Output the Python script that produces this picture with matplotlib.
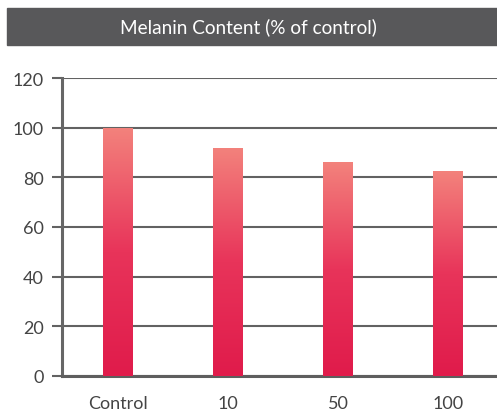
import numpy as np
import matplotlib.pyplot as plt
from matplotlib.colors import LinearSegmentedColormap
from matplotlib.patches import Rectangle

# podaci
categories = ["Control", "10", "50", "100"]
melanin = [100, 92, 86, 82.5]
yticks = [0, 20, 40, 60, 80, 100, 120]

plt.rcParams["font.family"] = ["Lato", "DejaVu Sans"]

fig = plt.figure(figsize=(4.97, 4.14), dpi=100)

# naslovna traka
fig.patches.append(Rectangle((7 / 497, 1 - 46 / 414), 490 / 497, 37 / 414,
                             transform=fig.transFigure, color="#58585a", zorder=0))
fig.text(0.5, 1 - 27.5 / 414, "Melanin Content (% of control)", color="white",
         fontsize=13.7, ha="center", va="center")

ax = fig.add_axes([62 / 497, 1 - 377 / 414, 435 / 497, 298 / 414])

x = np.arange(len(categories))
bars = ax.bar(x, melanin, width=0.27, color="none", zorder=3)

cmap = LinearSegmentedColormap.from_list("g", ["#e01b4b", "#e8345a", "#f3827c"])
grad = np.linspace(0, 1, 256).reshape(-1, 1)
for b in bars:
    im = ax.imshow(grad, cmap=cmap, origin="lower", aspect="auto",
                   extent=[b.get_x(), b.get_x() + b.get_width(), 0, b.get_height()],
                   zorder=3)
    im.set_clip_path(b)

ax.set_xlim(-0.51, 3.445)
ax.set_ylim(0, 120)
ax.set_xticks(x)
ax.set_xticklabels(categories)
ax.set_yticks(yticks)

ax.yaxis.grid(True, color="#626262", linewidth=1.5, zorder=1)
ax.set_axisbelow(True)

for s in ["top", "right"]:
    ax.spines[s].set_visible(False)
ax.spines["left"].set_color("#666666")
ax.spines["left"].set_linewidth(2.2)
ax.spines["bottom"].set_color("#5e5e5e")
ax.spines["bottom"].set_linewidth(2.2)

ax.tick_params(axis="y", length=7, width=1.5, color="#626262", labelsize=13,
               labelcolor="#444444", pad=6)
ax.tick_params(axis="x", length=0, labelsize=13, labelcolor="#444444", pad=14)

fig.savefig("out.png", dpi=100)
